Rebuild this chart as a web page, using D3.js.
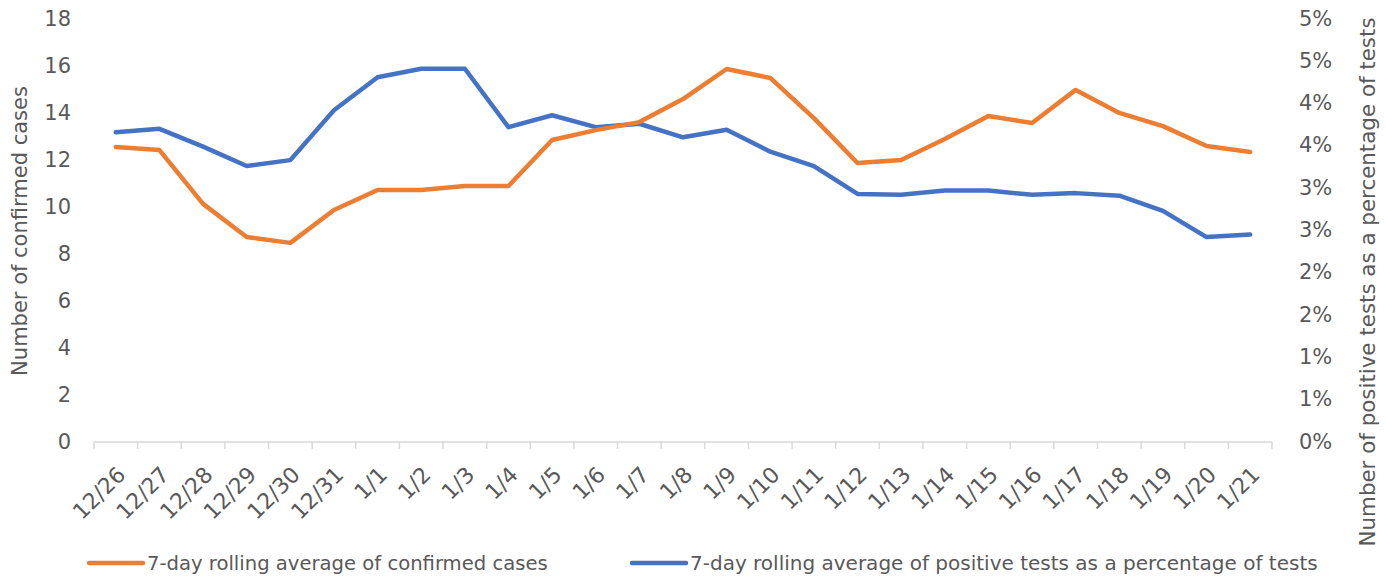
<!DOCTYPE html>
<html>
<head>
<meta charset="utf-8">
<script src="https://cdn.jsdelivr.net/npm/d3@7"></script>
<style>
  html, body { margin: 0; padding: 0; background: #fff; overflow: hidden; }
  svg { display: block; }
  text { font-family: "DejaVu Sans", sans-serif; fill: #595959; }
</style>
</head>
<body>
<svg id="chart"></svg>
<script>
// Dates along the x axis
const dates = ["12/26", "12/27", "12/28", "12/29", "12/30", "12/31", "1/1", "1/2", "1/3", "1/4",
  "1/5", "1/6", "1/7", "1/8", "1/9", "1/10", "1/11", "1/12", "1/13", "1/14",
  "1/15", "1/16", "1/17", "1/18", "1/19", "1/20", "1/21"];

// 7-day rolling average of confirmed cases (left axis)
const confirmedCases = [12.51, 12.38, 10.09, 8.68, 8.43, 9.83, 10.68, 10.68, 10.85, 10.85,
  12.81, 13.23, 13.57, 14.55, 15.83, 15.45, 13.74, 11.83, 11.96, 12.85,
  13.83, 13.53, 14.94, 13.96, 13.40, 12.55, 12.30];

// 7-day rolling average of positive tests as a percentage of tests (right axis)
const positiveRate = [0.0365, 0.0369, 0.0348, 0.0325, 0.0332, 0.0391, 0.0430, 0.0440, 0.0440, 0.0371,
  0.0385, 0.0371, 0.0375, 0.0359, 0.0368, 0.0342, 0.0325, 0.0292, 0.0291, 0.0296,
  0.0296, 0.0291, 0.0293, 0.0290, 0.0272, 0.0241, 0.0244];

const leftTicks = [0, 2, 4, 6, 8, 10, 12, 14, 16, 18];
const rightTicks = [0, 0.005, 0.01, 0.015, 0.02, 0.025, 0.03, 0.035, 0.04, 0.045, 0.05];

const width = 1386;
const height = 577;
const margin = { top: 18, right: 114, bottom: 136, left: 94 };
const innerWidth = width - margin.left - margin.right;
const innerHeight = height - margin.top - margin.bottom;

const orange = "#ED7D31";
const blue = "#4472C4";

const svg = d3.select("#chart")
  .attr("width", width)
  .attr("height", height);

const g = svg.append("g")
  .attr("transform", `translate(${margin.left},${margin.top})`);

const xScale = d3.scaleBand()
  .domain(dates)
  .range([0, innerWidth])
  .padding(0);

const yLeft = d3.scaleLinear().domain([0, 18]).range([innerHeight, 0]);
const yRight = d3.scaleLinear().domain([0, 0.05]).range([innerHeight, 0]);

// x axis line, tick marks sit on the category boundaries
const xAxisG = g.append("g").attr("transform", `translate(0,${innerHeight + 1})`);
xAxisG.append("line")
  .attr("x1", 0).attr("x2", innerWidth)
  .attr("stroke", "#d9d9d9").attr("stroke-width", 1.5);
const bounds = dates.map(d => xScale(d)).concat([innerWidth]);
xAxisG.selectAll(".tick-mark")
  .data(bounds)
  .enter().append("line")
  .attr("class", "tick-mark")
  .attr("x1", d => d).attr("x2", d => d)
  .attr("y1", 0).attr("y2", 7)
  .attr("stroke", "#d9d9d9").attr("stroke-width", 1.5);

xAxisG.selectAll(".x-label")
  .data(dates)
  .enter().append("text")
  .attr("class", "x-label")
  .attr("text-anchor", "end")
  .attr("font-size", 22)
  .attr("transform", d => `translate(${xScale(d) + xScale.bandwidth() / 2 + 11},${34}) rotate(-45)`)
  .text(d => d);

// left axis labels
g.selectAll(".y-left")
  .data(leftTicks)
  .enter().append("text")
  .attr("class", "y-left")
  .attr("x", -23)
  .attr("y", d => yLeft(d))
  .attr("dy", "0.36em")
  .attr("text-anchor", "end")
  .attr("font-size", 21)
  .text(d => d);

// right axis labels (Excel rounds the 0.5% steps to whole percents)
const pct = d3.format(".0%");
g.selectAll(".y-right")
  .data(rightTicks)
  .enter().append("text")
  .attr("class", "y-right")
  .attr("x", innerWidth + 27)
  .attr("y", d => yRight(d))
  .attr("dy", "0.36em")
  .attr("text-anchor", "start")
  .attr("font-size", 21)
  .text(d => pct(Math.round(d * 100 + 1e-9) / 100));

// axis titles
svg.append("text")
  .attr("transform", `translate(27,231) rotate(-90)`)
  .attr("text-anchor", "middle")
  .attr("font-size", 21)
  .text("Number of confirmed cases");

svg.append("text")
  .attr("transform", `translate(1375,282) rotate(-90)`)
  .attr("text-anchor", "middle")
  .attr("font-size", 21.4)
  .text("Number of positive tests as a percentage of tests");

// lines
const cx = d => xScale(d) + xScale.bandwidth() / 2;

const lineLeft = d3.line()
  .x((d, i) => cx(dates[i]))
  .y(d => yLeft(d));

const lineRight = d3.line()
  .x((d, i) => cx(dates[i]))
  .y(d => yRight(d));

g.append("path")
  .datum(positiveRate)
  .attr("fill", "none")
  .attr("stroke", blue)
  .attr("stroke-width", 4.5)
  .attr("stroke-linecap", "round")
  .attr("stroke-linejoin", "round")
  .attr("d", lineRight);

g.append("path")
  .datum(confirmedCases)
  .attr("fill", "none")
  .attr("stroke", orange)
  .attr("stroke-width", 4.5)
  .attr("stroke-linecap", "round")
  .attr("stroke-linejoin", "round")
  .attr("d", lineLeft);

// legend
const legendItems = [
  { label: "7-day rolling average of confirmed cases", color: orange, x: 89, size: 19.6 },
  { label: "7-day rolling average of positive tests as a percentage of tests", color: blue, x: 632, size: 20 }
];
const legend = svg.selectAll(".legend")
  .data(legendItems)
  .enter().append("g")
  .attr("class", "legend")
  .attr("transform", d => `translate(${d.x},563)`);
legend.append("line")
  .attr("x1", 0).attr("x2", 54)
  .attr("stroke", d => d.color)
  .attr("stroke-width", 4.5)
  .attr("stroke-linecap", "round");
legend.append("text")
  .attr("x", 58)
  .attr("dy", "0.36em")
  .attr("font-size", d => d.size)
  .text(d => d.label);
</script>
</body>
</html>
